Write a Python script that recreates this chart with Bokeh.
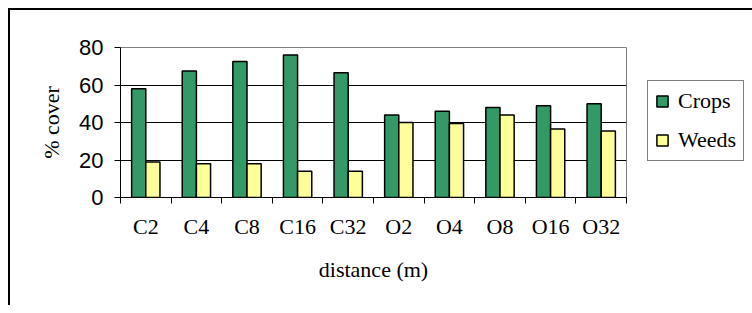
import numpy as np
from bokeh.plotting import figure
from bokeh.models import FixedTicker, Legend, LegendItem, ColumnDataSource
from bokeh.embed import file_html
from bokeh.resources import INLINE

categories = ["C2", "C4", "C8", "C16", "C32", "O2", "O4", "O8", "O16", "O32"]
crops = [58, 67.5, 72.5, 76, 66.5, 44, 46, 48, 49, 50]
weeds = [19, 18, 18, 14, 14, 40, 39.5, 44, 36.5, 35.5]
y_ticks = [0, 20, 40, 60, 80]

SERIF = "Liberation Serif"
SANS = "Liberation Sans"

n = len(categories)
centers = np.arange(n) + 0.5
bw = 0.28

p = figure(frame_width=506, frame_height=150, output_backend="svg", toolbar_location=None,
           x_range=(0, n), y_range=(0, 80),
           min_border_left=120, min_border_right=118, min_border_top=47, min_border_bottom=108)
p.border_fill_alpha = 0
p.background_fill_color = "white"
p.styles = {
    "background-color": "white",
    "background-image": "linear-gradient(black, black), linear-gradient(black, black)",
    "background-size": "100% 2px, 2px 100%",
    "background-position": "8px 8px, 8px 8px",
    "background-repeat": "no-repeat",
}

src = ColumnDataSource(dict(xc=centers - bw / 2, xw=centers + bw / 2, crops=crops, weeds=weeds))
r1 = p.vbar(x="xc", top="crops", width=bw, source=src, fill_color="#339966",
            line_color="black", line_width=1.5)
r2 = p.vbar(x="xw", top="weeds", width=bw, source=src, fill_color="#FFFF99",
            line_color="black", line_width=1.5)

p.outline_line_color = "#808080"
p.outline_line_width = 1
p.xgrid.visible = False
p.ygrid.ticker = FixedTicker(ticks=y_ticks[:-1])
p.ygrid.grid_line_color = "black"
p.ygrid.grid_line_width = 1

# y axis
p.yaxis.ticker = FixedTicker(ticks=y_ticks)
p.yaxis.axis_line_color = "black"
p.yaxis.major_tick_line_color = "black"
p.yaxis.major_tick_in = 0
p.yaxis.major_tick_out = 6
p.yaxis.minor_tick_line_color = None
p.yaxis.major_label_text_font = SANS
p.yaxis.major_label_text_font_size = "22px"
p.yaxis.major_label_text_color = "black"
p.yaxis.major_label_standoff = 11
p.yaxis.axis_label = "% cover"
p.yaxis.axis_label_text_font = SERIF
p.yaxis.axis_label_text_font_size = "22px"
p.yaxis.axis_label_text_font_style = "normal"
p.yaxis.axis_label_text_color = "black"
p.yaxis.axis_label_standoff = 12

# x axis: labels at category centres, ticks at boundaries
p.xaxis.ticker = FixedTicker(ticks=list(centers), minor_ticks=list(range(n + 1)))
p.xaxis.major_label_overrides = {float(c): lab for c, lab in zip(centers, categories)}
p.xaxis.axis_line_color = "black"
p.xaxis.major_tick_line_color = None
p.xaxis.major_tick_in = 0
p.xaxis.major_tick_out = 6
p.xaxis.minor_tick_line_color = "black"
p.xaxis.minor_tick_in = 0
p.xaxis.minor_tick_out = 6
p.xaxis.major_label_text_font = SERIF
p.xaxis.major_label_text_font_size = "22px"
p.xaxis.major_label_text_color = "black"
p.xaxis.major_label_standoff = 10
p.xaxis.axis_label = "distance (m)"
p.xaxis.axis_label_text_font = SERIF
p.xaxis.axis_label_text_font_size = "22px"
p.xaxis.axis_label_text_font_style = "normal"
p.xaxis.axis_label_text_color = "black"
p.xaxis.axis_label_standoff = 15

legend = Legend(items=[LegendItem(label="Crops", renderers=[r1]),
                       LegendItem(label="Weeds", renderers=[r2])],
                location=(21, 36))
legend.border_line_color = "black"
legend.border_line_width = 1
legend.background_fill_color = "white"
legend.background_fill_alpha = 1
legend.padding = 7
legend.margin = 0
legend.spacing = 13
legend.glyph_width = 14
legend.glyph_height = 14
legend.label_standoff = 9
legend.label_text_font = SERIF
legend.label_text_font_size = "22px"
legend.label_text_color = "black"
p.add_layout(legend, "right")

open("out.html", "w").write(file_html(p, INLINE))
